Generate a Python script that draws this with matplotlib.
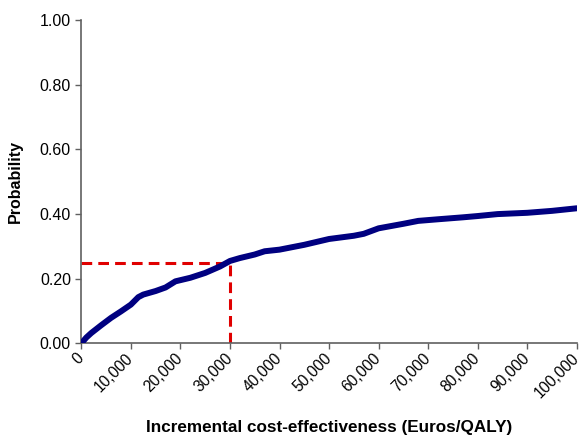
import matplotlib.pyplot as plt
from matplotlib.ticker import FuncFormatter

plt.rcParams['font.family'] = ['Liberation Sans', 'DejaVu Sans']

# acceptability curve
wtp = [0, 1000, 2000, 4000, 6000, 8000, 10000, 11500, 12500, 15000, 17000, 19000,
       22000, 25000, 28000, 30000, 32000, 35000, 37000, 40000, 45000, 50000,
       55000, 57000, 60000, 65000, 68000, 72000, 77000, 80000, 84000, 90000,
       95000, 100000]
prob = [0.0, 0.018, 0.032, 0.056, 0.079, 0.099, 0.120, 0.143, 0.151, 0.162, 0.173, 0.192,
        0.203, 0.218, 0.238, 0.255, 0.264, 0.275, 0.285, 0.290, 0.305, 0.323,
        0.333, 0.339, 0.356, 0.370, 0.379, 0.384, 0.390, 0.394, 0.400, 0.404,
        0.410, 0.418]

threshold = 30000
threshold_prob = 0.25

xticks = list(range(0, 100001, 10000))
yticks = [0.0, 0.2, 0.4, 0.6, 0.8, 1.0]

fig = plt.figure(figsize=(5.85, 4.38), dpi=100)
ax = fig.add_axes([0.139, 0.216, 0.847, 0.738])

ax.plot(wtp, prob, color='#000080', lw=4.3, solid_capstyle='round', zorder=3)
ax.plot([0, threshold], [threshold_prob, threshold_prob], color='#e00000',
        lw=2.2, dashes=(3.5, 2), zorder=2)
ax.plot([threshold, threshold], [0, threshold_prob], color='#e00000',
        lw=2.2, dashes=(3.5, 2), zorder=2)

ax.set_xlim(0, 100000)
ax.set_ylim(0, 1.0)
ax.set_xticks(xticks)
ax.set_yticks(yticks)
ax.xaxis.set_major_formatter(FuncFormatter(lambda v, p: f"{int(v):,}"))
ax.yaxis.set_major_formatter(FuncFormatter(lambda v, p: f"{v:.2f}"))

for s in ('top', 'right'):
    ax.spines[s].set_visible(False)
for s in ('left', 'bottom'):
    ax.spines[s].set_color('#606060')
    ax.spines[s].set_linewidth(1.2)

ax.tick_params(axis='both', direction='out', length=4, width=1, color='#606060',
               labelsize=11.5)
ax.tick_params(axis='x', labelsize=11.2, pad=5)
for lab in ax.get_xticklabels():
    lab.set_rotation(45)
    lab.set_ha('right')
    lab.set_va('center')
    lab.set_rotation_mode('anchor')

ax.set_xlabel('Incremental cost-effectiveness (Euros/QALY)', fontsize=12.3,
              fontweight='bold', labelpad=14)
ax.set_ylabel('Probability', fontsize=11.5, fontweight='bold', labelpad=12)

fig.savefig('out.png', dpi=100)
